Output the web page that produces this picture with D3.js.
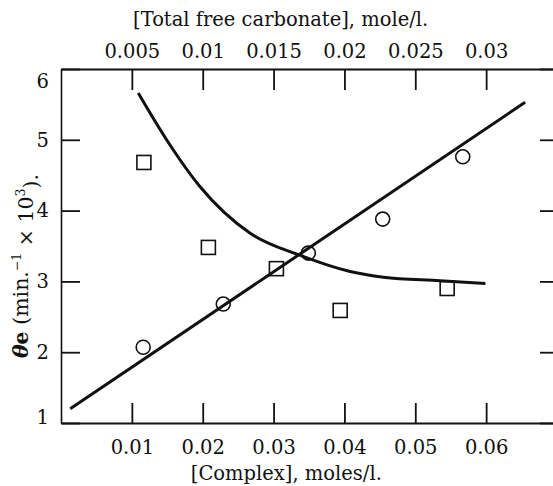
<!DOCTYPE html>
<html>
<head>
<meta charset="utf-8">
<script src="https://cdn.jsdelivr.net/npm/d3@7"></script>
<style>
    body { margin: 0; background: #fff; }
    svg { display: block; font-family: "DejaVu Serif", "Liberation Serif", serif; }
    .axis path, .axis line { stroke: #111; }
    .axis text { fill: #111; font-size: 19.5px; font-family: "DejaVu Serif", serif; }
    .mark { fill: none; stroke: #111; stroke-width: 1.6; }
    .title { fill: #111; font-size: 19.5px; }
</style>
</head>
<body>
<div id="chart"></div>
<script>
// circles: theta_e against [Complex]
const circleX = [0.0116, 0.0229, 0.0349, 0.0454, 0.0567];
const circleY = [2.07, 2.68, 3.40, 3.88, 4.76];

// squares: theta_e against [Total free carbonate] (drawn on the complex scale)
const squareX = [0.0117, 0.0208, 0.0304, 0.0394, 0.0545];
const squareY = [4.68, 3.48, 3.18, 2.59, 2.90];

// straight line through the circles
const lineX = [0.0013, 0.0655];
const lineY = [1.20, 5.53];

// falling curve through the squares
const curveX = [0.0109, 0.0149, 0.0196, 0.0267, 0.0337, 0.0408, 0.0455, 0.0535, 0.0599];
const curveY = [5.66, 5.00, 4.34, 3.68, 3.37, 3.14, 3.06, 3.01, 2.97];

const complexTicks = [0.01, 0.02, 0.03, 0.04, 0.05, 0.06];
const complexLabels = ["0.01", "0.02", "0.03", "0.04", "0.05", "0.06"];
const carbonateTicks = [0.005, 0.01, 0.015, 0.02, 0.025, 0.03];
const carbonateLabels = ["0.005", "0.01", "0.015", "0.02", "0.025", "0.03"];
const thetaTicks = [1, 2, 3, 4, 5, 6];

const totalWidth = 553;
const totalHeight = 486;
const margin = {top: 69, right: -4, bottom: 63, left: 61};
const width = totalWidth - margin.left - margin.right;
const height = totalHeight - margin.top - margin.bottom;

const x = d3.scaleLinear().domain([0, 0.07]).range([0, width]);
const xTop = d3.scaleLinear().domain([0, 0.035]).range([0, width]);
const y = d3.scaleLinear().domain([1, 6]).range([height, 0]);

const svg = d3.select("#chart").append("svg")
    .attr("width", totalWidth)
    .attr("height", totalHeight)
    .style("overflow", "hidden")
    .append("g")
    .attr("transform", "translate(" + margin.left + "," + margin.top + ")");

function styleAxis(g, lineWidth) {
    g.attr("font-size", null).attr("font-family", null);
    g.select(".domain").attr("stroke-width", lineWidth);
    g.selectAll(".tick line").attr("stroke-width", 1.8);
}

svg.append("g")
    .attr("class", "x axis")
    .attr("transform", "translate(0," + height + ")")
    .call(d3.axisBottom(x)
        .tickValues(complexTicks)
        .tickFormat((d, i) => complexLabels[i])
        .tickSizeInner(-20)
        .tickSizeOuter(0)
        .tickPadding(17))
    .call(g => styleAxis(g, 2));

svg.append("g")
    .attr("class", "x2 axis")
    .call(d3.axisTop(xTop)
        .tickValues(carbonateTicks)
        .tickFormat((d, i) => carbonateLabels[i])
        .tickSizeInner(-21)
        .tickSizeOuter(0)
        .tickPadding(11))
    .call(g => styleAxis(g, 2));

const yAxisSvg = svg.append("g")
    .attr("class", "y axis")
    .call(d3.axisLeft(y)
        .tickValues(thetaTicks)
        .tickFormat(d3.format("d"))
        .tickSizeInner(-19)
        .tickSizeOuter(0)
        .tickPadding(12))
    .call(g => styleAxis(g, 1.6));

// end labels sit inside the frame, as in the printed figure
yAxisSvg.selectAll(".tick text")
    .filter(d => d === y.domain()[1])
    .attr("dy", "0.95em");
yAxisSvg.selectAll(".tick text")
    .filter(d => d === y.domain()[0])
    .attr("dy", "0.02em");

svg.append("g")
    .attr("class", "y2 axis")
    .attr("transform", "translate(" + width + ",0)")
    .call(d3.axisRight(y)
        .tickValues(thetaTicks)
        .tickFormat("")
        .tickSizeInner(-17)
        .tickSizeOuter(0))
    .call(g => styleAxis(g, 1.6));

svg.append("text")
    .attr("class", "title")
    .attr("x", x(0.0310))
    .attr("y", -43)
    .attr("text-anchor", "middle")
    .text("[Total free carbonate], mole/l.");

svg.append("text")
    .attr("class", "title")
    .attr("x", x(0.0318))
    .attr("y", height + 57)
    .attr("text-anchor", "middle")
    .text("[Complex], moles/l.");

const yTitle = svg.append("text")
    .attr("class", "title")
    .attr("transform", "translate(" + (-33) + "," + (y(3.5) + 20) + ") rotate(-90)")
    .attr("text-anchor", "middle")
    .style("font-size", "20.5px");
yTitle.append("tspan").attr("font-weight", "bold").attr("font-style", "italic").text("θ");
yTitle.append("tspan").attr("font-weight", "bold").text("e");
yTitle.append("tspan").text(" (min.");
yTitle.append("tspan").attr("font-size", "12.5px").attr("dy", "-0.6em").text("−1");
yTitle.append("tspan").attr("dy", "0.6em").text(" × 10");
yTitle.append("tspan").attr("font-size", "12.5px").attr("dy", "-0.6em").text("3");
yTitle.append("tspan").attr("dy", "0.6em").text(").");

const straight = d3.line()
    .x(d => x(d[0]))
    .y(d => y(d[1]));

svg.append("path")
    .datum(d3.zip(lineX, lineY))
    .attr("fill", "none")
    .attr("stroke", "#111")
    .attr("stroke-width", 3)
    .attr("d", straight);

const curved = d3.line()
    .curve(d3.curveMonotoneX)
    .x(d => x(d[0]))
    .y(d => y(d[1]));

svg.append("path")
    .datum(d3.zip(curveX, curveY))
    .attr("fill", "none")
    .attr("stroke", "#111")
    .attr("stroke-width", 3)
    .attr("d", curved);

svg.selectAll(".circle")
    .data(d3.zip(circleX, circleY))
    .enter().append("circle")
    .attr("class", "mark circle")
    .attr("cx", d => x(d[0]))
    .attr("cy", d => y(d[1]))
    .attr("r", 7);

const side = 14;
svg.selectAll(".square")
    .data(d3.zip(squareX, squareY))
    .enter().append("rect")
    .attr("class", "mark square")
    .attr("x", d => x(d[0]) - side / 2)
    .attr("y", d => y(d[1]) - side / 2)
    .attr("width", side)
    .attr("height", side);
</script>
</body>
</html>
